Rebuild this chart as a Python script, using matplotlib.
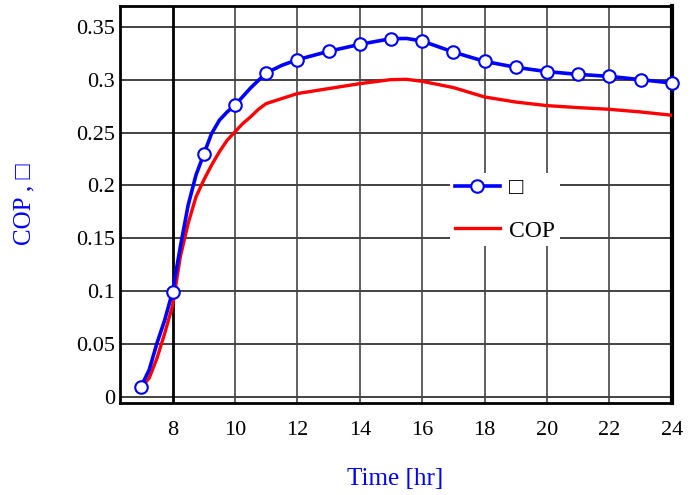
import numpy as np
import matplotlib.pyplot as plt

# values
# efficiency: markers at whole hours
hours = [7, 8, 9, 10, 11, 12, 13, 14, 15, 16, 17, 18, 19, 20, 21, 22, 23, 24]
eta = [0.0095, 0.0993, 0.2293, 0.2759, 0.3065, 0.3191, 0.327, 0.3336, 0.339,
       0.3368, 0.3263, 0.3175, 0.3119, 0.3078, 0.3052, 0.3033, 0.3002, 0.297]

# efficiency curve as drawn
eta_line_hours = [7, 7.25, 7.5, 7.75, 8, 8.25, 8.5, 8.75, 9, 9.25, 9.5, 9.75,
                  10, 10.5, 11, 11.5, 12, 13, 14, 15, 15.5, 16, 17, 18, 19,
                  20, 21, 22, 23, 24]
eta_line = [0.0101, 0.0252, 0.0505, 0.0726, 0.0993, 0.1419, 0.1813, 0.2097,
            0.2296, 0.249, 0.2617, 0.2696, 0.2759, 0.2923, 0.3065, 0.3137,
            0.3191, 0.327, 0.3336, 0.339, 0.3392, 0.3368, 0.3263, 0.3175,
            0.3119, 0.3078, 0.3052, 0.3033, 0.3002, 0.297]

cop_hours = [7, 7.25, 7.5, 7.75, 8, 8.25, 8.5, 8.75, 9, 9.25, 9.5, 9.75, 10,
             10.25, 10.5, 10.75, 11, 12, 13, 14, 15, 15.5, 16, 17, 18, 19, 20,
             21, 22, 23, 24]
cop = [0.009, 0.0174, 0.0363, 0.06, 0.086, 0.1325, 0.164, 0.189, 0.205,
       0.2192, 0.2318, 0.2428, 0.2507, 0.2586, 0.2649, 0.272, 0.2775, 0.287,
       0.2917, 0.2964, 0.3002, 0.3005, 0.2986, 0.2927, 0.2838, 0.279, 0.2756,
       0.2737, 0.2721, 0.2696, 0.2665]

x_ticks = [8, 10, 12, 14, 16, 18, 20, 22, 24]
y_ticks = [0, 0.05, 0.1, 0.15, 0.2, 0.25, 0.3, 0.35]
y_tick_labels = ['0', '0.05', '0.1', '0.15', '0.2', '0.25', '0.3', '0.35']

plt.rcParams['font.family'] = ['Liberation Serif', 'DejaVu Sans']

fig = plt.figure(figsize=(6.92, 4.95), dpi=100)
ax = fig.add_axes([0.1727, 0.186, 0.798, 0.802])

ax.set_xlim(6.3, 24)
ax.set_ylim(-0.006, 0.37)

# grid
for y in y_ticks:
    ax.axhline(y, color='#222222', lw=1.2, zorder=1)
for x in x_ticks[1:]:
    ax.axvline(x, color='#444444', lw=1.2, zorder=1)
ax.axvline(8, color='black', lw=2, zorder=1)

ax.plot(cop_hours, cop, color='#ff0000', lw=2.4, zorder=3)
ax.plot(eta_line_hours, eta_line, color='#0000ff', lw=2.6, zorder=4)
ax.plot(hours, eta, ls='none', marker='o', markersize=9,
        markerfacecolor='white', markeredgecolor='#0000ff', markeredgewidth=1.5,
        zorder=5, clip_on=False)

# legend handles
h_eta, = ax.plot([], [], color='#0000ff', lw=2.6, marker='o', markersize=9,
                 markerfacecolor='white', markeredgecolor='#0000ff',
                 markeredgewidth=1.5, label='\u25a1')
h_cop, = ax.plot([], [], color='#ff0000', lw=2.4, label='COP')

ax.set_xticks(x_ticks)
ax.set_yticks(y_ticks)
ax.set_yticklabels(y_tick_labels)
ax.tick_params(axis='both', length=0, labelsize=16)
ax.tick_params(axis='x', pad=13)
ax.tick_params(axis='y', pad=3)

for s in ax.spines.values():
    s.set_linewidth(2)
ax.spines['right'].set_linewidth(3)

ax.set_xlabel('Time [hr]', color='#0000ff', fontsize=18, labelpad=20)
ax.set_ylabel('COP , \u25a1', color='#0000ff', fontsize=18)
ax.yaxis.set_label_coords(-0.152, 0.5)

ax.legend(handles=[h_eta, h_cop], loc='upper left',
          bbox_to_anchor=(0.577, 0.61), frameon=True, fancybox=False,
          edgecolor='none', facecolor='white', framealpha=1,
          fontsize=17, handlelength=1.9, handletextpad=0.4,
          borderpad=0.2, labelspacing=0.9)

fig.savefig('out.png', dpi=100)
